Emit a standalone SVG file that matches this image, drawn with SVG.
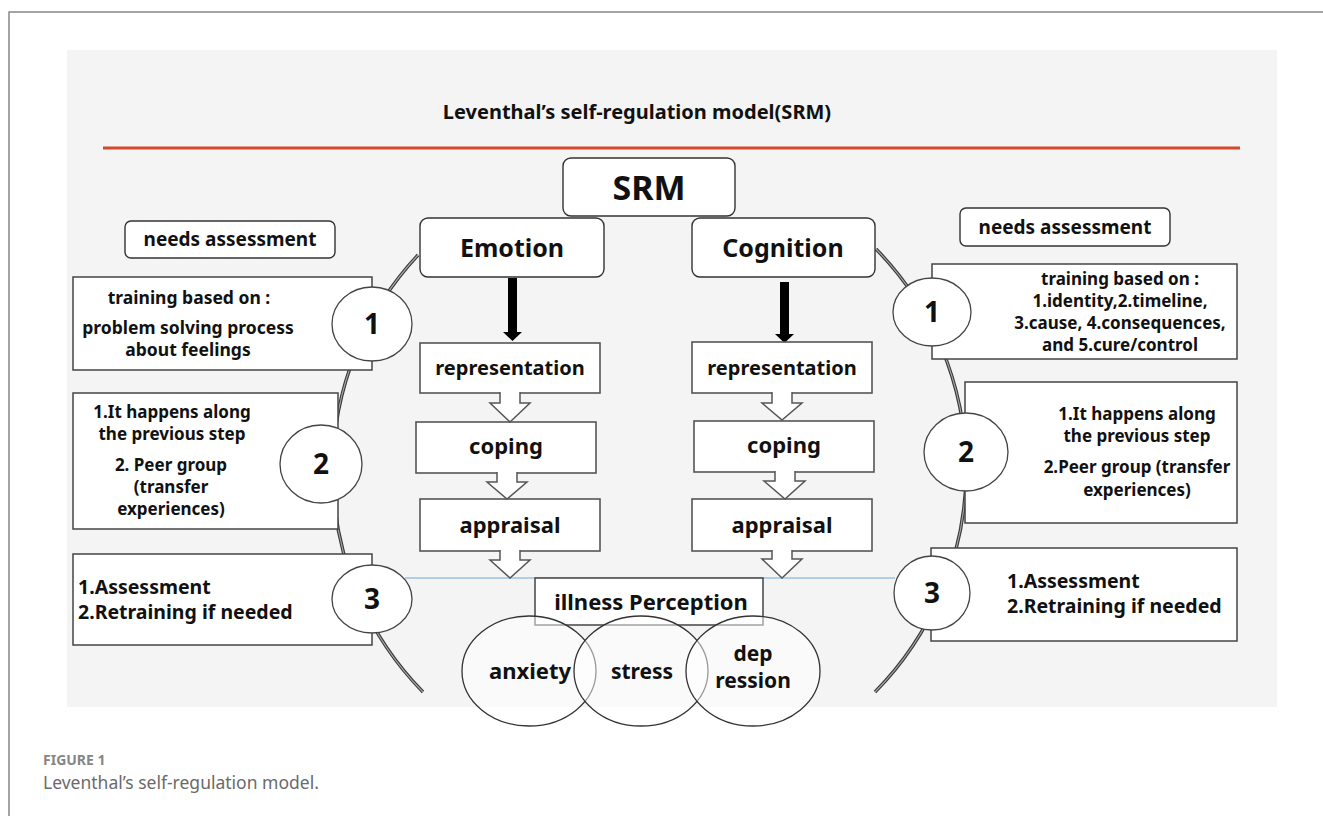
<svg xmlns="http://www.w3.org/2000/svg" width="1323" height="816" viewBox="0 0 1323 816">
<style>
text{font-family:"Noto Sans","Open Sans","DejaVu Sans",sans-serif;font-weight:700;fill:#111;text-anchor:middle}
.rbox{fill:#fff;stroke:#333;stroke-width:1.4}
.box{fill:#fff;stroke:#444;stroke-width:1.5}
.cbox{fill:#fff;stroke:#555;stroke-width:1.6}
.num{fill:#fff;stroke:#444;stroke-width:1.3}
.arcO{fill:none;stroke:#3a3a3a;stroke-width:3.4}
.arcI{fill:none;stroke:#a8a8a8;stroke-width:1.1}
.hollow{fill:#fff;stroke:#555;stroke-width:1.5}
.ell{fill:#fff;fill-opacity:0.5;stroke:#333;stroke-width:1.3}
.l{text-anchor:start}
.t{font-size:17.5px}
.t2{font-size:17px}
.t3{font-size:19.5px}
.n{font-size:28px}
</style>
<rect x="67" y="50" width="1210" height="657" fill="#f4f4f4"/>
<path d="M9,816 V12 H1323" fill="none" stroke="#888" stroke-width="1.5"/>
<g id="title">
<text x="637" y="119" font-size="20" font-weight="600">Leventhal’s self-regulation model(SRM)</text>
<line x1="103" y1="148" x2="1240" y2="148" stroke="#d5472a" stroke-width="3"/>
</g>
<g id="connectors">
<path class="arcO" d="M418,255 A316,316 0 0 0 423,692"/>
<path class="arcI" d="M418,255 A316,316 0 0 0 423,692"/>
<path class="arcO" d="M876,249 A316,316 0 0 1 875,692"/>
<path class="arcI" d="M876,249 A316,316 0 0 1 875,692"/>
<line x1="405" y1="578" x2="895" y2="578" stroke="#6fa6db" stroke-width="1.2"/>
<path d="M508,278 V332 H503 L512.5,341 L522,332 H517 V278 Z" fill="#000"/>
<path d="M780,282 V334 H775 L784.5,343 L794,334 H789 V282 Z" fill="#000"/>
</g>
<g id="srm"><rect class="rbox" x="563" y="158" width="172" height="58" rx="8"/><text x="649" y="200" font-size="34">SRM</text></g>
<g id="emotion"><rect class="rbox" x="420" y="218" width="184" height="59" rx="8"/><text x="512" y="257" font-size="25">Emotion</text></g>
<g id="cognition"><rect class="rbox" x="692" y="218" width="183" height="59" rx="8"/><text x="783" y="257" font-size="25">Cognition</text></g>
<g id="needs-left"><rect class="rbox" x="125" y="221" width="210" height="37" rx="6"/><text x="230" y="246" font-size="19">needs assessment</text></g>
<g id="needs-right"><rect class="rbox" x="960" y="208" width="210" height="38" rx="6"/><text x="1065" y="234" font-size="19">needs assessment</text></g>
<g id="left-1">
<rect class="box" x="73" y="277" width="299" height="93"/>
<text class="t" x="189" y="304">training based on :</text>
<text class="t" x="188" y="334">problem solving process</text>
<text class="t" x="188" y="356">about feelings</text>
</g>
<g id="left-2">
<rect class="box" x="73" y="393" width="265" height="136"/>
<text class="t2" x="172" y="418">1.It happens along</text>
<text class="t2" x="172" y="440">the previous step</text>
<text class="t2" x="171" y="471">2. Peer group</text>
<text class="t2" x="171" y="493">(transfer</text>
<text class="t2" x="171" y="515">experiences)</text>
</g>
<g id="left-3">
<rect class="box" x="73" y="554" width="299" height="91"/>
<text class="l t3" x="78" y="594">1.Assessment</text>
<text class="l t3" x="78" y="619">2.Retraining if needed</text>
</g>
<g id="right-1">
<rect class="box" x="932" y="264" width="305" height="95"/>
<text x="1120" y="285" font-size="17">training based on :</text>
<text x="1120" y="307" font-size="17">1.identity,2.timeline,</text>
<text x="1120" y="329" font-size="17">3.cause, 4.consequences,</text>
<text x="1120" y="351" font-size="17">and 5.cure/control</text>
</g>
<g id="right-2">
<rect class="box" x="965" y="382" width="272" height="141"/>
<text class="t2" x="1137" y="420">1.It happens along</text>
<text class="t2" x="1137" y="442">the previous step</text>
<text class="t2" x="1137" y="473">2.Peer group (transfer</text>
<text class="t2" x="1137" y="496">experiences)</text>
</g>
<g id="right-3">
<rect class="box" x="931" y="548" width="306" height="93"/>
<text class="l t3" x="1007" y="588">1.Assessment</text>
<text class="l t3" x="1007" y="613">2.Retraining if needed</text>
</g>
<g id="step-l1"><ellipse class="num" cx="372" cy="324" rx="40" ry="37"/><text class="n" x="372" y="334">1</text></g>
<g id="step-l2"><ellipse class="num" cx="321" cy="464" rx="41" ry="39"/><text class="n" x="321" y="474">2</text></g>
<g id="step-l3"><ellipse class="num" cx="372" cy="599" rx="40" ry="34"/><text class="n" x="372" y="609">3</text></g>
<g id="step-r1"><ellipse class="num" cx="932" cy="312" rx="39" ry="34"/><text class="n" x="932" y="322">1</text></g>
<g id="step-r2"><ellipse class="num" cx="966" cy="452" rx="42" ry="39"/><text class="n" x="966" y="462">2</text></g>
<g id="step-r3"><ellipse class="num" cx="932" cy="593" rx="38" ry="37"/><text class="n" x="932" y="603">3</text></g>
<g id="rep-left"><rect class="cbox" x="420" y="343" width="180" height="50"/><text x="510" y="375" font-size="20">representation</text></g>
<g id="cop-left"><rect class="cbox" x="416" y="422" width="180" height="51"/><text x="506" y="454" font-size="22">coping</text></g>
<g id="app-left"><rect class="cbox" x="420" y="499" width="180" height="52"/><text x="510" y="533" font-size="22">appraisal</text></g>
<g id="rep-right"><rect class="cbox" x="692" y="342" width="180" height="51"/><text x="782" y="375" font-size="20">representation</text></g>
<g id="cop-right"><rect class="cbox" x="694" y="421" width="180" height="51"/><text x="784" y="453" font-size="22">coping</text></g>
<g id="app-right"><rect class="cbox" x="692" y="499" width="180" height="52"/><text x="782" y="533" font-size="22">appraisal</text></g>
<g id="flow-arrows">
<path class="hollow" d="M500,392 V403 H490 L510,422 L530,403 H520 V392"/>
<path class="hollow" d="M497,472 V482 H487 L507,499 L527,482 H517 V472"/>
<path class="hollow" d="M500,550 V560 H490 L510,578 L530,560 H520 V550"/>
<path class="hollow" d="M772,392 V403 H762 L782,420 L802,403 H792 V392"/>
<path class="hollow" d="M775,471 V481 H764 L785,499 L805,481 H795 V471"/>
<path class="hollow" d="M772,550 V559 H762 L782,578 L802,559 H792 V550"/>
</g>
<g id="illness"><rect class="box" x="535" y="578" width="228" height="47"/><text x="651" y="610" font-size="22">illness Perception</text></g>
<g id="anxiety"><ellipse class="ell" cx="529" cy="671" rx="67" ry="55"/><text x="530" y="679" font-size="22">anxiety</text></g>
<g id="stress"><ellipse class="ell" cx="641" cy="671" rx="67" ry="55"/><text x="642" y="679" font-size="21">stress</text></g>
<g id="depression"><ellipse class="ell" cx="753" cy="671" rx="67" ry="55"/><text x="753" y="661" font-size="21">dep</text><text x="753" y="688" font-size="21">ression</text></g>
<g id="caption">
<text class="l" x="43" y="765" font-size="14" font-weight="600" style="fill:#858585">FIGURE 1</text>
<text class="l" x="43" y="789" font-size="17.5" style="fill:#6a6a6a;font-weight:400">Leventhal’s self-regulation model.</text>
</g>
</svg>
